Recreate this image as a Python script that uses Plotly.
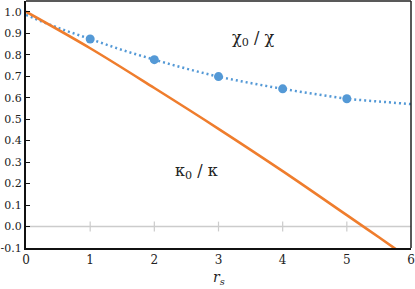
import plotly.graph_objects as go

# Data
chi_pts_x = [1, 2, 3, 4, 5]
chi_pts_y = [0.873, 0.777, 0.698, 0.641, 0.595]

chi_curve_x = [0, 0.5, 1, 1.5, 2, 2.5, 3, 3.5, 4, 4.5, 5, 5.5, 6]
chi_curve_y = [0.985, 0.925, 0.873, 0.822, 0.777, 0.735, 0.698, 0.668, 0.641, 0.617, 0.595, 0.582, 0.570]

kappa_x = [0, 1, 2, 3, 4, 5, 5.5, 6]
kappa_y = [1.0, 0.830, 0.645, 0.455, 0.258, 0.053, -0.050, -0.155]

xtick_vals = [0, 1, 2, 3, 4, 5, 6]
ytick_vals = [-0.1, 0.0, 0.1, 0.2, 0.3, 0.4, 0.5, 0.6, 0.7, 0.8, 0.9, 1.0]
ytick_text = ["-0.1", "0.0", "0.1", "0.2", "0.3", "0.4", "0.5", "0.6", "0.7", "0.8", "0.9", "1.0"]
zero_tick_x = [1, 2, 3, 4, 5]

BLUE = "#5499d6"
ORANGE = "#ef7d2d"
GRAY = "#cccccc"
FONT = "DejaVu Serif"

fig = go.Figure()

# gray zero line with small ticks
fig.add_trace(go.Scatter(x=[0, 6], y=[0, 0], mode="lines",
                         line=dict(color=GRAY, width=1.5), hoverinfo="skip", showlegend=False))
fig.add_trace(go.Scatter(x=zero_tick_x, y=[0] * len(zero_tick_x), mode="markers",
                         marker=dict(symbol="line-ns", size=7, line=dict(color=GRAY, width=1.2)),
                         hoverinfo="skip", showlegend=False))

fig.add_trace(go.Scatter(x=chi_curve_x, y=chi_curve_y, mode="lines", line_shape="spline",
                         line=dict(color=BLUE, width=2.5, dash="2px,3px"), showlegend=False))
fig.add_trace(go.Scatter(x=chi_pts_x, y=chi_pts_y, mode="markers",
                         marker=dict(color=BLUE, size=9), showlegend=False))
fig.add_trace(go.Scatter(x=kappa_x, y=kappa_y, mode="lines", line_shape="spline",
                         line=dict(color=ORANGE, width=2.6), showlegend=False))

fig.add_annotation(x=3.53, y=0.875, text="χ<sub>0</sub> / χ", showarrow=False,
                   font=dict(family=FONT, size=16, color="#222"))
fig.add_annotation(x=2.65, y=0.255, text="κ<sub>0</sub> / κ", showarrow=False,
                   font=dict(family=FONT, size=16, color="#222"))
fig.add_annotation(x=3, y=0, xref="x", yref="paper", yshift=-30, yanchor="middle",
                   text="<i>r<sub>s</sub></i>", showarrow=False,
                   font=dict(family=FONT, size=14, color="#222"))

# top/right frame
fig.add_shape(type="line", xref="paper", yref="paper", x0=0, x1=1, y0=1, y1=1,
              line=dict(color="#222", width=1.5))
fig.add_shape(type="line", xref="paper", yref="paper", x0=1, x1=1, y0=0, y1=1,
              line=dict(color="#222", width=1.5))

fig.update_layout(
    width=415, height=289,
    margin=dict(l=26, r=4, t=1, b=41, autoexpand=False),
    plot_bgcolor="white", paper_bgcolor="white",
    font=dict(family=FONT, size=11, color="#222"),
    xaxis=dict(range=[0, 6], tickvals=xtick_vals, showgrid=False, zeroline=False,
               showline=True, linecolor="#111", linewidth=2, ticks="", automargin=False,
               tickfont=dict(family=FONT, size=12)),
    yaxis=dict(range=[-0.1, 1.05], tickvals=ytick_vals, ticktext=ytick_text, automargin=False,
               showgrid=False, zeroline=False, showline=True, linecolor="#111", linewidth=2,
               ticks="inside", ticklen=4, tickcolor="#111", tickwidth=1,
               tickfont=dict(family=FONT, size=11)),
)

fig.write_html("out.html", config={"displayModeBar": False},
               post_script="document.body.style.margin='0';document.body.style.padding='0';")
